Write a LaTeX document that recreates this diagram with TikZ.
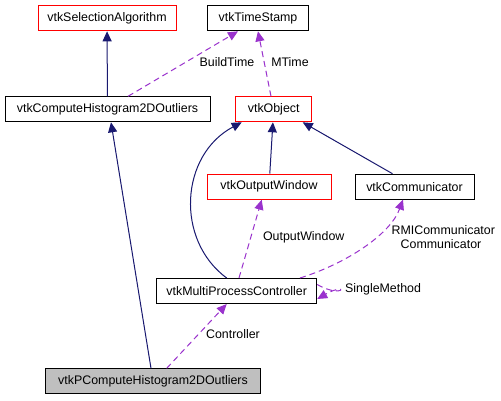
\documentclass[tikz,border=0pt]{standalone}
\usepackage{fontspec}
\setmainfont{Liberation Sans}
\usetikzlibrary{arrows.meta}
\definecolor{inhcol}{HTML}{191970}
\definecolor{usecol}{HTML}{9A32CD}
\definecolor{boxgray}{HTML}{BFBFBF}
\tikzset{
  box/.style={draw=black, line width=1pt, rectangle, inner sep=0pt, minimum height=25pt,
    font=\fontsize{12.4}{14}\selectfont, fill=white},
  redbox/.style={box, draw=red},
  graybox/.style={box, fill=boxgray},
  inh/.style={draw=inhcol, line width=1pt, -{Triangle[length=10pt,width=9pt]}},
  use/.style={draw=usecol, line width=1pt, dash pattern=on 6pt off 4pt, -{Triangle[length=10pt,width=9pt]}},
  lbl/.style={inner sep=0pt, font=\fontsize{12.4}{14}\selectfont}
}
\begin{document}
\begin{tikzpicture}[x=1pt,y=-1pt]
\useasboundingbox (0,0) rectangle (501,400);
\fill[white] (0,0) rectangle (501,400);
% nodes
\node[redbox, minimum width=138pt] (sel) at (107,18.3) {vtkSelectionAlgorithm};
\node[box, minimum width=101pt] (ts) at (258,18.3) {vtkTimeStamp};
\node[box, minimum width=205pt] (cho) at (107.5,109.3) {vtkComputeHistogram2DOutliers};
\node[redbox, minimum width=76pt] (obj) at (273.7,109.3) {vtkObject};
\node[redbox, minimum width=124pt] (ow) at (269,186.7) {vtkOutputWindow};
\node[box, minimum width=119pt] (comm) at (414.5,186.7) {vtkCommunicator};
\node[box, minimum width=160pt] (mpc) at (236.7,291) {vtkMultiProcessController};
\node[graybox, minimum width=215pt] (pch) at (153,381.3) {vtkPComputeHistogram2DOutliers};
% inheritance edges
\draw[inh] (cho) -- (sel);
\draw[inh] (ow) -- (obj);
\draw[inh] ([xshift=-22pt]comm.north) -- ([xshift=29pt]obj.south);
\draw[inh] ([xshift=-10pt]mpc.north) .. controls (175,240) and (180,155) .. ([xshift=-32pt]obj.south);
\draw[inh] ([xshift=-2pt]pch.north) -- ([xshift=3.5pt]cho.south);
% usage edges
\draw[use] ([xshift=20.5pt]cho.north) -- ([xshift=-20pt]ts.south);
\draw[use] ([xshift=-2.7pt]obj.north) -- ([xshift=0pt]ts.south);
\draw[use] ([xshift=13.7pt]pch.north) -- ([xshift=-10pt]mpc.south);
\draw[use] ([xshift=2.3pt]mpc.north) -- ([xshift=-7.3pt]ow.south);
\draw[use] ([xshift=63.3pt]mpc.north) .. controls (345,264) and (390,235) .. ([xshift=-11.5pt]comm.south);
\draw[use] ([yshift=6.5pt]mpc.east) .. controls (345,300) and (349,281) .. ([yshift=-8pt]mpc.east);
% labels
\node[lbl] (lbt) at (227,62) {BuildTime};
\node[lbl] (lmt) at (290,62) {MTime};
\node[lbl] (lctl) at (233,334) {Controller};
\node[lbl] (low) at (303.7,237.3) {OutputWindow};
\node[lbl] (lrmi) at (443.3,230) {RMICommunicator};
\node[lbl] (lcom) at (441,244) {Communicator};
\node[lbl, anchor=west] (lsm) at (345,289.3) {SingleMethod};
\end{tikzpicture}
\end{document}
